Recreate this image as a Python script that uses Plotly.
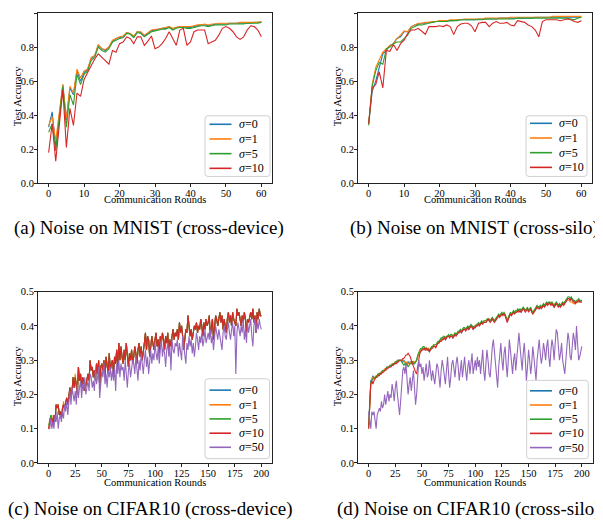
import plotly.graph_objects as go

# ---- data: MNIST cross-device (a) ----
mn_dev_s0 = [0.33, 0.42, 0.21, 0.38, 0.58, 0.37, 0.56, 0.52, 0.66, 0.60,
             0.65, 0.67, 0.73, 0.75, 0.81, 0.79, 0.78, 0.80, 0.83, 0.85,
             0.855, 0.86, 0.885, 0.88, 0.86, 0.89, 0.885, 0.865, 0.88, 0.895,
             0.90, 0.905, 0.91, 0.91, 0.92, 0.905, 0.915, 0.92, 0.92, 0.915,
             0.915, 0.92, 0.925, 0.93, 0.93, 0.925, 0.93, 0.935, 0.935, 0.935,
             0.935, 0.94, 0.94, 0.94, 0.94, 0.94, 0.94, 0.94, 0.945, 0.945,
             0.945]
mn_dev_s1 = [0.34, 0.39, 0.25, 0.40, 0.58, 0.38, 0.57, 0.53, 0.67, 0.62,
             0.66, 0.67, 0.74, 0.75, 0.815, 0.79, 0.785, 0.80, 0.84, 0.85,
             0.86, 0.865, 0.885, 0.88, 0.865, 0.89, 0.89, 0.87, 0.885, 0.90,
             0.905, 0.905, 0.91, 0.915, 0.92, 0.91, 0.915, 0.92, 0.92, 0.92,
             0.92, 0.925, 0.93, 0.93, 0.935, 0.93, 0.935, 0.935, 0.94, 0.94,
             0.94, 0.94, 0.94, 0.94, 0.945, 0.945, 0.945, 0.945, 0.945, 0.945,
             0.95]
mn_dev_s5 = [0.30, 0.35, 0.19, 0.37, 0.57, 0.33, 0.52, 0.46, 0.64, 0.58,
             0.64, 0.66, 0.72, 0.74, 0.80, 0.78, 0.77, 0.79, 0.83, 0.84,
             0.85, 0.855, 0.88, 0.875, 0.855, 0.885, 0.88, 0.86, 0.875, 0.89,
             0.895, 0.90, 0.905, 0.905, 0.915, 0.90, 0.91, 0.915, 0.915, 0.91,
             0.91, 0.915, 0.92, 0.925, 0.925, 0.92, 0.925, 0.93, 0.93, 0.93,
             0.93, 0.935, 0.935, 0.935, 0.935, 0.935, 0.94, 0.94, 0.94, 0.94,
             0.945]
mn_dev_s10 = [0.18, 0.35, 0.13, 0.33, 0.55, 0.21, 0.44, 0.34, 0.53, 0.51,
              0.61, 0.65, 0.69, 0.73, 0.76, 0.74, 0.72, 0.70, 0.78, 0.77,
              0.82, 0.83, 0.86, 0.85, 0.82, 0.86, 0.86, 0.81, 0.835, 0.865,
              0.79, 0.80, 0.82, 0.85, 0.89, 0.85, 0.81, 0.90, 0.91, 0.81,
              0.83, 0.89, 0.90, 0.90, 0.90, 0.82, 0.83, 0.84, 0.87, 0.91,
              0.92, 0.91, 0.89, 0.86, 0.845, 0.86, 0.90, 0.925, 0.92, 0.90,
              0.86]

# ---- data: MNIST cross-silo (b) ----
mn_silo_s0 = [0.35, 0.54, 0.60, 0.68, 0.76, 0.78, 0.81, 0.82, 0.85, 0.86,
              0.89, 0.89, 0.92, 0.93, 0.935, 0.94, 0.94, 0.945, 0.945, 0.95,
              0.95, 0.95, 0.955, 0.955, 0.955, 0.96, 0.96, 0.96, 0.96, 0.96,
              0.96, 0.965, 0.965, 0.965, 0.965, 0.965, 0.965, 0.97, 0.97, 0.97,
              0.97, 0.97, 0.97, 0.97, 0.97, 0.97, 0.97, 0.975, 0.975, 0.975,
              0.975, 0.975, 0.975, 0.975, 0.975, 0.975, 0.975, 0.975, 0.975, 0.975,
              0.975]
mn_silo_s1 = [0.35, 0.58, 0.68, 0.73, 0.77, 0.79, 0.81, 0.82, 0.85, 0.87,
              0.895, 0.89, 0.92, 0.93, 0.94, 0.94, 0.945, 0.945, 0.95, 0.95,
              0.955, 0.955, 0.955, 0.96, 0.96, 0.96, 0.96, 0.965, 0.965, 0.965,
              0.965, 0.965, 0.965, 0.97, 0.97, 0.97, 0.97, 0.97, 0.97, 0.97,
              0.975, 0.975, 0.975, 0.975, 0.975, 0.975, 0.975, 0.975, 0.975, 0.975,
              0.975, 0.975, 0.98, 0.98, 0.98, 0.98, 0.98, 0.98, 0.98, 0.98,
              0.98]
mn_silo_s5 = [0.34, 0.57, 0.66, 0.71, 0.70, 0.79, 0.80, 0.82, 0.83, 0.83,
              0.85, 0.87, 0.91, 0.92, 0.93, 0.93, 0.935, 0.94, 0.945, 0.95,
              0.95, 0.95, 0.95, 0.955, 0.955, 0.955, 0.96, 0.96, 0.96, 0.96,
              0.96, 0.96, 0.96, 0.965, 0.965, 0.965, 0.965, 0.965, 0.965, 0.965,
              0.965, 0.965, 0.97, 0.97, 0.97, 0.97, 0.97, 0.97, 0.97, 0.97,
              0.97, 0.97, 0.97, 0.97, 0.97, 0.97, 0.97, 0.965, 0.96, 0.97,
              0.975]
mn_silo_s10 = [0.35, 0.56, 0.58, 0.655, 0.56, 0.78, 0.775, 0.815, 0.78, 0.82,
               0.84, 0.88, 0.90, 0.90, 0.91, 0.895, 0.875, 0.92, 0.92, 0.92,
               0.925, 0.92, 0.93, 0.92, 0.873, 0.92, 0.935, 0.94, 0.94, 0.925,
               0.89, 0.94, 0.945, 0.945, 0.92, 0.94, 0.95, 0.94, 0.94, 0.945,
               0.93, 0.925, 0.955, 0.95, 0.945, 0.93, 0.92, 0.90, 0.86, 0.95,
               0.96, 0.96, 0.96, 0.96, 0.955, 0.96, 0.965, 0.96, 0.95, 0.945,
               0.955]

# ---- data: CIFAR10 cross-device (c) ----
cf_dev_s0 = [0.10, 0.12, 0.13, 0.13, 0.11, 0.14, 0.12, 0.17, 0.16, 0.17,
             0.14, 0.15, 0.13, 0.16, 0.17, 0.16, 0.18, 0.19, 0.17, 0.20,
             0.22, 0.19, 0.21, 0.25, 0.22, 0.25, 0.23, 0.20, 0.28, 0.24,
             0.26, 0.22, 0.25, 0.24, 0.21, 0.23, 0.25, 0.26, 0.24, 0.30,
             0.27, 0.28, 0.25, 0.27, 0.24, 0.29, 0.26, 0.30, 0.22, 0.28,
             0.29, 0.27, 0.30, 0.25, 0.31, 0.28, 0.26, 0.32, 0.27, 0.29,
             0.30, 0.26, 0.31, 0.29, 0.33, 0.28, 0.35, 0.30, 0.34, 0.31,
             0.29, 0.33, 0.30, 0.35, 0.31, 0.28, 0.32, 0.30, 0.33, 0.29,
             0.31, 0.34, 0.32, 0.29, 0.33, 0.35, 0.31, 0.34, 0.30, 0.32,
             0.35, 0.38, 0.33, 0.37, 0.36, 0.31, 0.34, 0.37, 0.35, 0.33,
             0.36, 0.38, 0.34, 0.36, 0.32, 0.37, 0.35, 0.38, 0.36, 0.33,
             0.37, 0.35, 0.38, 0.32, 0.36, 0.34, 0.37, 0.39, 0.36, 0.38,
             0.37, 0.39, 0.36, 0.41, 0.38, 0.40, 0.37, 0.33, 0.36, 0.39,
             0.38, 0.43, 0.40, 0.37, 0.39, 0.36, 0.38, 0.40, 0.39, 0.41,
             0.38, 0.40, 0.39, 0.42, 0.40, 0.37, 0.41, 0.39, 0.42, 0.40,
             0.41, 0.43, 0.37, 0.40, 0.42, 0.36, 0.41, 0.43, 0.42, 0.40,
             0.42, 0.44, 0.41, 0.43, 0.39, 0.42, 0.40, 0.38, 0.42, 0.44,
             0.41, 0.43, 0.40, 0.44, 0.42, 0.41, 0.40, 0.45, 0.43, 0.44,
             0.42, 0.40, 0.43, 0.41, 0.44, 0.42, 0.38, 0.42, 0.41, 0.43,
             0.44, 0.42, 0.45, 0.41, 0.43, 0.38, 0.44, 0.42, 0.45, 0.43,
             0.43]
cf_dev_s1 = [0.10, 0.13, 0.13, 0.14, 0.11, 0.14, 0.12, 0.17, 0.17, 0.17,
             0.14, 0.15, 0.13, 0.16, 0.18, 0.16, 0.18, 0.19, 0.17, 0.20,
             0.22, 0.19, 0.21, 0.25, 0.22, 0.26, 0.23, 0.20, 0.28, 0.24,
             0.26, 0.22, 0.25, 0.24, 0.21, 0.23, 0.25, 0.26, 0.24, 0.30,
             0.27, 0.28, 0.25, 0.27, 0.24, 0.29, 0.26, 0.30, 0.22, 0.28,
             0.29, 0.27, 0.30, 0.25, 0.31, 0.28, 0.26, 0.32, 0.27, 0.29,
             0.30, 0.26, 0.31, 0.29, 0.33, 0.28, 0.35, 0.30, 0.34, 0.31,
             0.29, 0.33, 0.30, 0.35, 0.31, 0.28, 0.32, 0.30, 0.33, 0.29,
             0.31, 0.34, 0.32, 0.29, 0.33, 0.35, 0.31, 0.34, 0.30, 0.32,
             0.35, 0.38, 0.33, 0.37, 0.36, 0.31, 0.34, 0.37, 0.35, 0.33,
             0.36, 0.38, 0.34, 0.36, 0.32, 0.37, 0.35, 0.38, 0.36, 0.33,
             0.37, 0.35, 0.38, 0.32, 0.36, 0.34, 0.37, 0.39, 0.36, 0.38,
             0.37, 0.39, 0.36, 0.41, 0.38, 0.40, 0.37, 0.33, 0.36, 0.39,
             0.38, 0.43, 0.40, 0.37, 0.39, 0.36, 0.38, 0.40, 0.39, 0.41,
             0.38, 0.40, 0.39, 0.42, 0.40, 0.37, 0.41, 0.39, 0.42, 0.40,
             0.41, 0.43, 0.37, 0.40, 0.42, 0.36, 0.41, 0.43, 0.42, 0.40,
             0.42, 0.44, 0.41, 0.43, 0.39, 0.42, 0.40, 0.38, 0.42, 0.44,
             0.41, 0.43, 0.40, 0.44, 0.42, 0.41, 0.40, 0.45, 0.43, 0.44,
             0.42, 0.40, 0.43, 0.41, 0.44, 0.42, 0.38, 0.42, 0.41, 0.43,
             0.44, 0.42, 0.45, 0.41, 0.43, 0.38, 0.44, 0.42, 0.45, 0.43,
             0.43]
cf_dev_s5 = [0.11, 0.12, 0.14, 0.13, 0.11, 0.14, 0.12, 0.17, 0.16, 0.17,
             0.14, 0.15, 0.13, 0.16, 0.17, 0.16, 0.18, 0.19, 0.17, 0.20,
             0.22, 0.19, 0.21, 0.25, 0.22, 0.25, 0.23, 0.20, 0.28, 0.24,
             0.26, 0.22, 0.25, 0.24, 0.21, 0.23, 0.25, 0.26, 0.24, 0.30,
             0.27, 0.28, 0.25, 0.27, 0.24, 0.29, 0.26, 0.30, 0.22, 0.28,
             0.29, 0.27, 0.30, 0.25, 0.31, 0.28, 0.26, 0.32, 0.27, 0.29,
             0.30, 0.26, 0.31, 0.29, 0.33, 0.28, 0.35, 0.30, 0.34, 0.31,
             0.29, 0.33, 0.30, 0.35, 0.31, 0.28, 0.32, 0.30, 0.33, 0.29,
             0.31, 0.34, 0.32, 0.29, 0.33, 0.35, 0.31, 0.34, 0.30, 0.32,
             0.35, 0.38, 0.33, 0.37, 0.36, 0.31, 0.34, 0.37, 0.35, 0.33,
             0.36, 0.38, 0.34, 0.36, 0.32, 0.37, 0.35, 0.38, 0.36, 0.33,
             0.37, 0.35, 0.38, 0.32, 0.36, 0.34, 0.37, 0.39, 0.36, 0.38,
             0.37, 0.39, 0.36, 0.41, 0.38, 0.40, 0.37, 0.33, 0.36, 0.39,
             0.38, 0.43, 0.40, 0.37, 0.39, 0.36, 0.38, 0.40, 0.39, 0.41,
             0.38, 0.40, 0.39, 0.42, 0.40, 0.37, 0.41, 0.39, 0.42, 0.40,
             0.41, 0.43, 0.37, 0.40, 0.42, 0.36, 0.41, 0.43, 0.42, 0.40,
             0.42, 0.44, 0.41, 0.43, 0.39, 0.42, 0.40, 0.38, 0.42, 0.44,
             0.41, 0.43, 0.40, 0.44, 0.42, 0.41, 0.40, 0.45, 0.43, 0.44,
             0.42, 0.40, 0.43, 0.41, 0.44, 0.42, 0.38, 0.42, 0.41, 0.43,
             0.44, 0.42, 0.45, 0.41, 0.43, 0.38, 0.44, 0.42, 0.45, 0.43,
             0.43]
cf_dev_s10 = [0.10, 0.12, 0.13, 0.13, 0.11, 0.14, 0.12, 0.17, 0.16, 0.17,
              0.14, 0.15, 0.13, 0.16, 0.17, 0.16, 0.18, 0.19, 0.17, 0.20,
              0.22, 0.19, 0.21, 0.25, 0.22, 0.25, 0.23, 0.20, 0.28, 0.24,
              0.26, 0.22, 0.25, 0.24, 0.21, 0.23, 0.25, 0.26, 0.24, 0.30,
              0.27, 0.28, 0.25, 0.27, 0.24, 0.29, 0.26, 0.30, 0.22, 0.28,
              0.29, 0.27, 0.30, 0.25, 0.31, 0.28, 0.26, 0.32, 0.27, 0.29,
              0.30, 0.26, 0.31, 0.29, 0.33, 0.28, 0.35, 0.30, 0.34, 0.31,
              0.29, 0.33, 0.30, 0.35, 0.31, 0.28, 0.32, 0.30, 0.33, 0.29,
              0.31, 0.34, 0.32, 0.29, 0.33, 0.35, 0.31, 0.34, 0.30, 0.32,
              0.35, 0.38, 0.33, 0.37, 0.36, 0.31, 0.34, 0.37, 0.35, 0.33,
              0.36, 0.38, 0.34, 0.36, 0.32, 0.37, 0.35, 0.38, 0.36, 0.33,
              0.37, 0.35, 0.38, 0.32, 0.36, 0.34, 0.37, 0.39, 0.36, 0.38,
              0.37, 0.39, 0.36, 0.41, 0.38, 0.40, 0.37, 0.33, 0.36, 0.39,
              0.38, 0.43, 0.40, 0.37, 0.39, 0.36, 0.38, 0.40, 0.39, 0.41,
              0.38, 0.40, 0.39, 0.42, 0.40, 0.37, 0.41, 0.39, 0.42, 0.40,
              0.41, 0.43, 0.37, 0.40, 0.42, 0.36, 0.41, 0.43, 0.42, 0.40,
              0.42, 0.44, 0.41, 0.43, 0.39, 0.42, 0.40, 0.38, 0.42, 0.44,
              0.41, 0.43, 0.40, 0.44, 0.42, 0.41, 0.40, 0.45, 0.43, 0.44,
              0.42, 0.40, 0.43, 0.41, 0.44, 0.42, 0.38, 0.42, 0.41, 0.43,
              0.44, 0.42, 0.45, 0.41, 0.43, 0.38, 0.44, 0.42, 0.45, 0.43,
              0.43]
cf_dev_s50 = [0.10, 0.10, 0.13, 0.10, 0.12, 0.10, 0.14, 0.12, 0.15, 0.10,
              0.13, 0.14, 0.12, 0.15, 0.13, 0.17, 0.15, 0.18, 0.14, 0.19,
              0.21, 0.17, 0.22, 0.20, 0.18, 0.21, 0.17, 0.23, 0.19, 0.22,
              0.24, 0.19, 0.23, 0.21, 0.25, 0.20, 0.22, 0.24, 0.21, 0.26,
              0.25, 0.22, 0.24, 0.21, 0.27, 0.23, 0.25, 0.28, 0.19, 0.24,
              0.27, 0.25, 0.29, 0.23, 0.26, 0.22, 0.27, 0.25, 0.28, 0.24,
              0.27, 0.24, 0.28, 0.21, 0.29, 0.26, 0.30, 0.25, 0.29, 0.27,
              0.28, 0.24, 0.30, 0.26, 0.22, 0.27, 0.29, 0.25, 0.28, 0.30,
              0.29, 0.26, 0.31, 0.28, 0.24, 0.30, 0.27, 0.32, 0.29, 0.26,
              0.30, 0.33, 0.28, 0.31, 0.26, 0.30, 0.33, 0.29, 0.32, 0.30,
              0.35, 0.32, 0.30, 0.34, 0.29, 0.33, 0.36, 0.31, 0.34, 0.32,
              0.28, 0.33, 0.35, 0.31, 0.34, 0.27, 0.36, 0.33, 0.32, 0.35,
              0.34, 0.36, 0.31, 0.35, 0.33, 0.30, 0.37, 0.34, 0.32, 0.29,
              0.35, 0.33, 0.37, 0.34, 0.36, 0.32, 0.35, 0.31, 0.34, 0.38,
              0.36, 0.33, 0.37, 0.35, 0.38, 0.34, 0.36, 0.39, 0.35, 0.37,
              0.38, 0.36, 0.39, 0.35, 0.37, 0.33, 0.36, 0.40, 0.38, 0.36,
              0.39, 0.37, 0.35, 0.33, 0.38, 0.40, 0.37, 0.36, 0.39, 0.41,
              0.38, 0.36, 0.39, 0.41, 0.37, 0.40, 0.26, 0.38, 0.41, 0.39,
              0.37, 0.40, 0.38, 0.42, 0.36, 0.39, 0.35, 0.41, 0.38, 0.40,
              0.42, 0.37, 0.34, 0.40, 0.42, 0.38, 0.41, 0.39, 0.42, 0.40,
              0.39]

# ---- data: CIFAR10 cross-silo (d) ----
cf_silo_s0 = [0.11, 0.18, 0.24, 0.245, 0.255, 0.245, 0.25, 0.25, 0.255, 0.26,
              0.26, 0.26, 0.265, 0.265, 0.27, 0.27, 0.275, 0.275, 0.28, 0.28,
              0.28, 0.285, 0.285, 0.29, 0.29, 0.29, 0.295, 0.295, 0.30, 0.30,
              0.30, 0.30, 0.295, 0.30, 0.295, 0.29, 0.29, 0.295, 0.29, 0.295,
              0.295, 0.29, 0.295, 0.29, 0.295, 0.30, 0.31, 0.32, 0.325, 0.33,
              0.33, 0.335, 0.335, 0.33, 0.335, 0.33, 0.33, 0.325, 0.33, 0.335,
              0.34, 0.34, 0.34, 0.34, 0.345, 0.35, 0.35, 0.355, 0.36, 0.36,
              0.365, 0.365, 0.36, 0.365, 0.37, 0.37, 0.37, 0.37, 0.37, 0.365,
              0.37, 0.375, 0.375, 0.375, 0.38, 0.385, 0.385, 0.38, 0.385, 0.39,
              0.39, 0.39, 0.39, 0.395, 0.39, 0.395, 0.40, 0.40, 0.39, 0.395,
              0.395, 0.40, 0.40, 0.405, 0.405, 0.405, 0.41, 0.41, 0.41, 0.41,
              0.41, 0.415, 0.42, 0.415, 0.415, 0.415, 0.42, 0.42, 0.415, 0.415,
              0.42, 0.425, 0.43, 0.43, 0.43, 0.435, 0.435, 0.435, 0.43, 0.42,
              0.415, 0.42, 0.43, 0.435, 0.435, 0.435, 0.44, 0.44, 0.44, 0.44,
              0.445, 0.445, 0.445, 0.44, 0.445, 0.45, 0.45, 0.445, 0.445, 0.45,
              0.445, 0.445, 0.45, 0.44, 0.435, 0.44, 0.445, 0.45, 0.455, 0.455,
              0.45, 0.455, 0.455, 0.455, 0.46, 0.46, 0.46, 0.465, 0.465, 0.465,
              0.465, 0.465, 0.465, 0.46, 0.455, 0.46, 0.465, 0.465, 0.46, 0.46,
              0.46, 0.46, 0.465, 0.465, 0.47, 0.47, 0.475, 0.48, 0.48, 0.475,
              0.48, 0.475, 0.475, 0.47, 0.47, 0.47, 0.47, 0.475, 0.475, 0.47,
              0.475]
cf_silo_s1 = [0.10, 0.17, 0.23, 0.245, 0.25, 0.245, 0.25, 0.255, 0.255, 0.26,
              0.26, 0.265, 0.265, 0.27, 0.27, 0.275, 0.275, 0.28, 0.28, 0.28,
              0.285, 0.285, 0.29, 0.29, 0.29, 0.295, 0.295, 0.30, 0.30, 0.30,
              0.30, 0.30, 0.30, 0.295, 0.295, 0.29, 0.295, 0.29, 0.29, 0.295,
              0.29, 0.295, 0.29, 0.295, 0.295, 0.30, 0.31, 0.32, 0.325, 0.33,
              0.335, 0.335, 0.335, 0.335, 0.33, 0.33, 0.335, 0.33, 0.33, 0.335,
              0.34, 0.345, 0.34, 0.34, 0.345, 0.35, 0.355, 0.355, 0.36, 0.365,
              0.365, 0.365, 0.365, 0.37, 0.37, 0.37, 0.37, 0.37, 0.375, 0.37,
              0.37, 0.375, 0.375, 0.38, 0.38, 0.38, 0.385, 0.385, 0.39, 0.39,
              0.39, 0.39, 0.395, 0.395, 0.395, 0.395, 0.40, 0.40, 0.395, 0.395,
              0.40, 0.40, 0.405, 0.405, 0.405, 0.41, 0.41, 0.41, 0.41, 0.415,
              0.415, 0.415, 0.42, 0.42, 0.415, 0.42, 0.42, 0.415, 0.415, 0.42,
              0.425, 0.425, 0.43, 0.43, 0.435, 0.435, 0.435, 0.435, 0.43, 0.425,
              0.415, 0.42, 0.43, 0.435, 0.435, 0.44, 0.44, 0.44, 0.44, 0.445,
              0.445, 0.445, 0.445, 0.445, 0.45, 0.45, 0.45, 0.445, 0.45, 0.45,
              0.445, 0.445, 0.45, 0.445, 0.435, 0.44, 0.445, 0.45, 0.455, 0.455,
              0.455, 0.455, 0.455, 0.46, 0.46, 0.46, 0.465, 0.465, 0.465, 0.465,
              0.47, 0.465, 0.465, 0.46, 0.46, 0.465, 0.465, 0.465, 0.46, 0.46,
              0.46, 0.465, 0.465, 0.465, 0.47, 0.475, 0.475, 0.475, 0.475, 0.47,
              0.47, 0.47, 0.465, 0.465, 0.465, 0.47, 0.47, 0.47, 0.47, 0.47,
              0.47]
cf_silo_s5 = [0.105, 0.18, 0.235, 0.24, 0.245, 0.25, 0.25, 0.25, 0.255, 0.26,
              0.26, 0.26, 0.265, 0.27, 0.27, 0.27, 0.275, 0.28, 0.28, 0.28,
              0.285, 0.285, 0.285, 0.29, 0.29, 0.295, 0.295, 0.30, 0.30, 0.30,
              0.30, 0.295, 0.29, 0.285, 0.29, 0.285, 0.29, 0.28, 0.285, 0.29,
              0.29, 0.295, 0.29, 0.29, 0.295, 0.30, 0.315, 0.325, 0.33, 0.335,
              0.335, 0.34, 0.34, 0.335, 0.335, 0.335, 0.33, 0.33, 0.335, 0.34,
              0.34, 0.345, 0.345, 0.345, 0.35, 0.355, 0.355, 0.36, 0.365, 0.365,
              0.37, 0.37, 0.365, 0.37, 0.37, 0.375, 0.37, 0.375, 0.375, 0.37,
              0.375, 0.38, 0.375, 0.38, 0.385, 0.385, 0.39, 0.385, 0.39, 0.395,
              0.395, 0.39, 0.395, 0.40, 0.395, 0.40, 0.405, 0.40, 0.395, 0.40,
              0.40, 0.405, 0.405, 0.41, 0.405, 0.41, 0.415, 0.41, 0.415, 0.415,
              0.415, 0.42, 0.42, 0.42, 0.415, 0.42, 0.425, 0.42, 0.415, 0.42,
              0.425, 0.43, 0.435, 0.43, 0.435, 0.44, 0.435, 0.44, 0.435, 0.425,
              0.415, 0.425, 0.435, 0.44, 0.435, 0.44, 0.445, 0.44, 0.445, 0.445,
              0.45, 0.445, 0.45, 0.445, 0.45, 0.455, 0.45, 0.445, 0.45, 0.455,
              0.445, 0.45, 0.455, 0.445, 0.44, 0.445, 0.45, 0.455, 0.46, 0.455,
              0.455, 0.46, 0.455, 0.46, 0.465, 0.46, 0.465, 0.47, 0.465, 0.47,
              0.47, 0.465, 0.47, 0.465, 0.46, 0.465, 0.47, 0.465, 0.46, 0.465,
              0.46, 0.465, 0.47, 0.465, 0.47, 0.475, 0.48, 0.485, 0.485, 0.48,
              0.485, 0.48, 0.475, 0.475, 0.47, 0.475, 0.475, 0.48, 0.475, 0.475,
              0.475]
cf_silo_s10 = [0.10, 0.17, 0.23, 0.24, 0.23, 0.24, 0.245, 0.25, 0.25, 0.255,
               0.255, 0.26, 0.26, 0.265, 0.265, 0.27, 0.27, 0.275, 0.275, 0.28,
               0.28, 0.28, 0.285, 0.285, 0.29, 0.29, 0.29, 0.295, 0.295, 0.30,
               0.30, 0.30, 0.305, 0.305, 0.31, 0.315, 0.315, 0.32, 0.315, 0.31,
               0.30, 0.29, 0.28, 0.27, 0.265, 0.26, 0.28, 0.31, 0.32, 0.325,
               0.33, 0.33, 0.335, 0.33, 0.335, 0.33, 0.33, 0.325, 0.33, 0.335,
               0.335, 0.34, 0.34, 0.335, 0.345, 0.35, 0.35, 0.355, 0.355, 0.36,
               0.36, 0.365, 0.36, 0.365, 0.37, 0.37, 0.365, 0.37, 0.37, 0.365,
               0.37, 0.375, 0.37, 0.375, 0.38, 0.38, 0.385, 0.38, 0.385, 0.39,
               0.39, 0.385, 0.39, 0.395, 0.39, 0.395, 0.40, 0.395, 0.39, 0.395,
               0.395, 0.40, 0.40, 0.405, 0.40, 0.405, 0.41, 0.405, 0.41, 0.41,
               0.41, 0.415, 0.42, 0.415, 0.41, 0.415, 0.42, 0.415, 0.41, 0.415,
               0.42, 0.425, 0.43, 0.425, 0.43, 0.435, 0.43, 0.435, 0.43, 0.42,
               0.41, 0.42, 0.43, 0.435, 0.43, 0.435, 0.44, 0.435, 0.44, 0.44,
               0.445, 0.44, 0.445, 0.44, 0.445, 0.45, 0.445, 0.44, 0.445, 0.45,
               0.44, 0.445, 0.45, 0.44, 0.435, 0.44, 0.445, 0.45, 0.455, 0.45,
               0.45, 0.455, 0.45, 0.455, 0.46, 0.455, 0.46, 0.465, 0.46, 0.465,
               0.465, 0.46, 0.465, 0.46, 0.455, 0.46, 0.465, 0.46, 0.455, 0.46,
               0.455, 0.46, 0.465, 0.46, 0.465, 0.47, 0.475, 0.48, 0.48, 0.475,
               0.48, 0.475, 0.47, 0.47, 0.465, 0.47, 0.47, 0.475, 0.47, 0.47,
               0.47]
cf_silo_s50 = [0.15, 0.12, 0.10, 0.15, 0.14, 0.15, 0.12, 0.10, 0.14, 0.15,
               0.16, 0.15, 0.18, 0.16, 0.17, 0.20, 0.17, 0.19, 0.21, 0.18,
               0.20, 0.19, 0.23, 0.21, 0.18, 0.22, 0.24, 0.20, 0.17, 0.14,
               0.18, 0.23, 0.27, 0.28, 0.26, 0.29, 0.24, 0.20, 0.23, 0.25,
               0.21, 0.24, 0.27, 0.22, 0.17, 0.20, 0.26, 0.30, 0.28, 0.29,
               0.26, 0.28, 0.24, 0.27, 0.29, 0.25, 0.26, 0.30, 0.27, 0.24,
               0.27, 0.25, 0.23, 0.26, 0.29, 0.28, 0.24, 0.22, 0.27, 0.30,
               0.28, 0.25, 0.23, 0.27, 0.31, 0.26, 0.22, 0.25, 0.29, 0.30,
               0.27, 0.25, 0.29, 0.31, 0.28, 0.24, 0.27, 0.30, 0.25, 0.29,
               0.31, 0.27, 0.24, 0.28, 0.30, 0.26, 0.29, 0.32, 0.26, 0.28,
               0.30, 0.27, 0.31, 0.28, 0.30, 0.26, 0.29, 0.33, 0.27, 0.24,
               0.29, 0.33, 0.30, 0.26, 0.25, 0.31, 0.34, 0.36, 0.33, 0.29,
               0.26, 0.22, 0.28, 0.33, 0.35, 0.30, 0.27, 0.32, 0.34, 0.29,
               0.25, 0.30, 0.36, 0.33, 0.28, 0.26, 0.30, 0.32, 0.27, 0.31,
               0.35, 0.38, 0.34, 0.29, 0.27, 0.32, 0.35, 0.30, 0.24, 0.28,
               0.33, 0.30, 0.26, 0.29, 0.34, 0.31, 0.28, 0.24, 0.30, 0.33,
               0.36, 0.32, 0.29, 0.31, 0.35, 0.33, 0.30, 0.34, 0.36, 0.31,
               0.28, 0.33, 0.36, 0.34, 0.30, 0.35, 0.39, 0.38, 0.33, 0.30,
               0.32, 0.35, 0.30, 0.28, 0.26, 0.30, 0.35, 0.38, 0.36, 0.31,
               0.30, 0.34, 0.38, 0.36, 0.33, 0.40, 0.35, 0.30, 0.31, 0.33,
               0.34]

sigma_labels = ["0", "1", "5", "10", "50"]
colors = ["#1f77b4", "#ff7f0e", "#2ca02c", "#d62728", "#9467bd"]

panels = [
    [mn_dev_s0, mn_dev_s1, mn_dev_s5, mn_dev_s10],
    [mn_silo_s0, mn_silo_s1, mn_silo_s5, mn_silo_s10],
    [cf_dev_s0, cf_dev_s1, cf_dev_s5, cf_dev_s10, cf_dev_s50],
    [cf_silo_s0, cf_silo_s1, cf_silo_s5, cf_silo_s10, cf_silo_s50],
]
suffix = ["", "2", "3", "4"]

FONT = "Liberation Serif, Times New Roman, serif"
OFF = 8                      # page body margin in the browser
W, H = 603 - OFF, 527 - OFF  # figure size that fits the window

def px_x(p):
    return min(1, max(0, (p - OFF) / W))

def px_y(p):
    return min(1, max(0, 1 - (p - OFF) / H))

fig = go.Figure()
for k, series in enumerate(panels):
    for i, vals in enumerate(series):
        fig.add_trace(go.Scatter(
            x=list(range(len(vals))), y=vals, mode="lines",
            line=dict(color=colors[i], width=1.1),
            name="σ=" + sigma_labels[i], showlegend=False,
            xaxis="x" + suffix[k], yaxis="y" + suffix[k],
        ))

axis_style = dict(showgrid=False, zeroline=False, showline=True, mirror=True,
                  linecolor="#222", linewidth=1, ticks="outside", ticklen=3,
                  tickwidth=0.8, tickcolor="#222",
                  tickfont=dict(family=FONT, size=10.5, color="black"))

# panel box (left, right), (top, bottom) in page pixels, ranges and steps
boxes = [
    ((38, 272), (8, 182), [-3, 63], 10, [0, 1], 0.2),
    ((358, 592), (8, 182), [-3, 63], 10, [0, 1], 0.2),
    ((38, 272), (292.7, 467.7), [-10, 210], 25, [0, 0.5], 0.1),
    ((358, 592.5), (292.7, 467.7), [-10, 210], 25, [0, 0.5], 0.1),
]
layout_axes = {}
for k, ((x0, x1), (y0, y1), xr, dx, yr, dy) in enumerate(boxes):
    s = suffix[k]
    layout_axes["xaxis" + s] = dict(domain=[px_x(x0), px_x(x1)], range=xr, dtick=dx,
                                    anchor="y" + s, ticklabelstandoff=-3, **axis_style)
    layout_axes["yaxis" + s] = dict(domain=[px_y(y1), px_y(y0)], range=yr, dtick=dy,
                                    tickformat=".1f", anchor="x" + s,
                                    ticklabelstandoff=-2, **axis_style)

annotations = []
shapes = []

def note(text, x, y, size, angle=0, xanchor="center"):
    annotations.append(dict(text=text, x=px_x(x), y=px_y(y), xref="paper", yref="paper",
                            xanchor=xanchor, yanchor="middle",
                            showarrow=False, textangle=angle,
                            font=dict(family=FONT, size=size, color="black")))

def legend_box(x0, x1, y0, y1, rows, line_x0, line_x1, text_x, n):
    r = 3
    a, b = px_x(x0), px_x(x1)
    top, bot = px_y(y0), px_y(y1)
    rx, ry = r / W, r / H
    path = (f"M{a+rx},{bot} L{b-rx},{bot} Q{b},{bot} {b},{bot+ry} "
            f"L{b},{top-ry} Q{b},{top} {b-rx},{top} L{a+rx},{top} "
            f"Q{a},{top} {a},{top-ry} L{a},{bot+ry} Q{a},{bot} {a+rx},{bot} Z")
    shapes.append(dict(type="path", path=path, xref="paper", yref="paper",
                       fillcolor="rgba(255,255,255,0.85)",
                       line=dict(color="#d0d0d0", width=1)))
    for i in range(n):
        yy = px_y(rows[i])
        shapes.append(dict(type="line", xref="paper", yref="paper",
                           x0=px_x(line_x0), x1=px_x(line_x1), y0=yy, y1=yy,
                           line=dict(color=colors[i], width=1.6)))
        note("<i>σ</i>=" + sigma_labels[i], text_x, rows[i], 12, xanchor="left")

legend_box(205, 270, 113, 175, [121.7, 136.7, 151.7, 166.7], 209.5, 231.5, 237, 4)
legend_box(526, 587, 113, 175, [120.7, 135.7, 150.7, 165.7], 530, 552, 557, 4)
legend_box(205, 269.5, 381.7, 463.3, [393.3, 408.3, 422.7, 437.3, 451.7], 209.5, 231, 237, 5)
legend_box(526.7, 588.3, 383.3, 463.3, [394, 408.5, 423, 437.5, 452], 530, 552, 557, 5)

note("Communication Rounds", 155, 199, 10.5)
note("Communication Rounds", 475, 199, 10.5)
note("Communication Rounds", 155, 488, 10.5)
note("Communication Rounds", 475, 488, 10.5)
note("Test Accuracy", 17, 93, 10.5, -90)
note("Test Accuracy", 337, 93, 10.5, -90)
note("Test Accuracy", 17, 379, 10.5, -90)
note("Test Accuracy", 337, 379, 10.5, -90)
note("(a) Noise on MNIST (cross-device)", 149, 228, 19)
note("(b) Noise on MNIST (cross-silo)", 474, 228, 19)
note("(c) Noise on CIFAR10 (cross-device)", 150, 515, 19)
note("(d) Noise on CIFAR10 (cross-silo)", 469, 515, 19)

fig.update_layout(
    width=W, height=H, margin=dict(l=0, r=0, t=0, b=0),
    paper_bgcolor="white", plot_bgcolor="white",
    font=dict(family=FONT, color="black"),
    showlegend=False,
    annotations=annotations,
    shapes=shapes,
    **layout_axes,
)

fig.write_html("out.html")
